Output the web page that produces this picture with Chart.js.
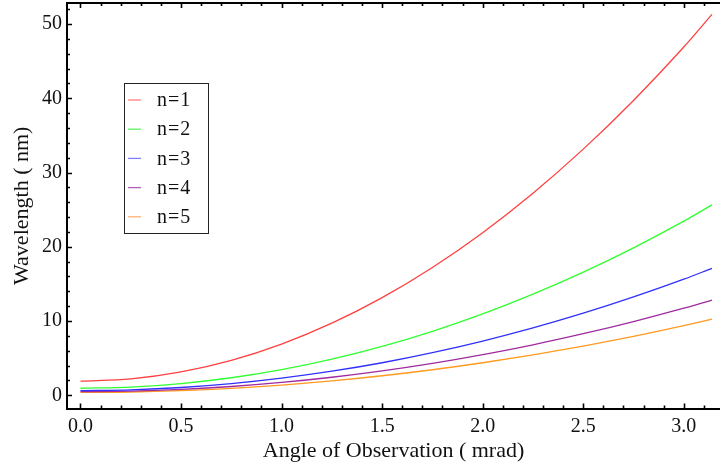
<!DOCTYPE html>
<html>
<head>
<meta charset="utf-8">
<script src="https://cdn.jsdelivr.net/npm/chart.js@4/dist/chart.umd.min.js"></script>
<style>
  html, body { margin: 0; padding: 0; background: #ffffff; }
  #wrap { width: 720px; height: 470px; position: relative; }
</style>
</head>
<body>
<div id="wrap"><canvas id="c" width="720" height="470"></canvas></div>
<script>
// Observation angle (mrad) at which each curve is sampled
const angles = [0, 0.25, 0.5, 0.75, 1.0, 1.25, 1.5, 1.75, 2.0, 2.25, 2.5, 2.75, 3.0, 3.14];

// Wavelength (nm) of each harmonic n at those angles
const harmonic1 = [1.9, 2.21, 3.15, 4.71, 6.9, 9.71, 13.15, 17.21, 21.9, 27.21, 33.15, 39.71, 46.9, 51.3];
const harmonic2 = [0.95, 1.1, 1.58, 2.36, 3.45, 4.86, 6.58, 8.61, 10.95, 13.61, 16.58, 19.86, 23.45, 25.65];
const harmonic3 = [0.63, 0.74, 1.05, 1.57, 2.3, 3.24, 4.38, 5.74, 7.3, 9.07, 11.05, 13.24, 15.63, 17.1];
const harmonic4 = [0.48, 0.55, 0.79, 1.18, 1.73, 2.43, 3.29, 4.3, 5.48, 6.8, 8.29, 9.93, 11.73, 12.83];
const harmonic5 = [0.38, 0.44, 0.63, 0.94, 1.38, 1.94, 2.63, 3.44, 4.38, 5.44, 6.63, 7.94, 9.38, 10.26];

const seriesLabels = ['n=1', 'n=2', 'n=3', 'n=4', 'n=5'];
const seriesValues = [harmonic1, harmonic2, harmonic3, harmonic4, harmonic5];

// Tick values for the axes
const xMajorTicks = [0, 0.5, 1.0, 1.5, 2.0, 2.5, 3.0];
const yMajorTicks = [0, 10, 20, 30, 40, 50];

const lineColors = ['#ff4040', '#30ff30', '#3030ff', '#a02aa0', '#ff9a20'];
const legendColors = ['#ff8080', '#60f060', '#8080ff', '#b060b0', '#ffb070'];

const FONT = '"Liberation Serif", "DejaVu Serif", serif';

const datasets = seriesValues.map((vals, i) => ({
  label: seriesLabels[i],
  data: angles.map((a, k) => ({ x: a, y: vals[k] })),
  borderColor: lineColors[i],
  borderWidth: 1.3,
  pointRadius: 0,
  fill: false,
  cubicInterpolationMode: 'monotone'
}));

// Inward-pointing ticks on left, bottom and top edges, plus the top frame line
const frameTicks = {
  id: 'frameTicks',
  afterDatasetsDraw(chart) {
    const { ctx, chartArea: a, scales: { x, y } } = chart;
    ctx.save();
    ctx.strokeStyle = '#000';
    ctx.lineWidth = 2;
    ctx.beginPath();
    ctx.moveTo(a.left - 1, a.top);
    ctx.lineTo(a.right, a.top);
    ctx.stroke();

    ctx.lineWidth = 1.6;
    ctx.beginPath();
    // x ticks: minor every 0.1
    for (let i = 0; i <= 32; i++) {
      const v = i / 10;
      const px = Math.round(x.getPixelForValue(v)) + 0.5;
      if (px > a.right) break;
      const major = i % 5 === 0;
      const len = major ? 5 : 3;
      ctx.moveTo(px, a.bottom);
      ctx.lineTo(px, a.bottom - len);
      ctx.moveTo(px, a.top);
      ctx.lineTo(px, a.top + len);
    }
    // y ticks: minor every 2
    for (let v = 0; v <= 52; v += 2) {
      const py = Math.round(y.getPixelForValue(v)) + 0.5;
      const major = v % 10 === 0;
      const len = major ? 5 : 3;
      ctx.moveTo(a.left, py);
      ctx.lineTo(a.left + len, py);
    }
    ctx.stroke();
    ctx.restore();
  }
};

// Boxed legend inside the plot
const boxedLegend = {
  id: 'boxedLegend',
  afterDraw(chart) {
    const { ctx } = chart;
    const bx = 124.5, by = 83.5, bw = 84, bh = 150;
    ctx.save();
    ctx.fillStyle = '#fff';
    ctx.fillRect(bx, by, bw, bh);
    ctx.strokeStyle = '#222';
    ctx.lineWidth = 1;
    ctx.strokeRect(bx, by, bw, bh);
    ctx.font = '20px ' + FONT;
    if ('letterSpacing' in ctx) ctx.letterSpacing = '1px';
    ctx.textBaseline = 'middle';
    ctx.textAlign = 'left';
    chart.data.datasets.forEach((ds, i) => {
      const cy = 100 + i * 29.2;
      ctx.strokeStyle = legendColors[i];
      ctx.lineWidth = 1.3;
      ctx.beginPath();
      ctx.moveTo(128, cy);
      ctx.lineTo(141, cy);
      ctx.stroke();
      ctx.fillStyle = '#111';
      ctx.fillText(ds.label, 157, cy + 1);
    });
    ctx.restore();
  }
};

new Chart(document.getElementById('c'), {
  type: 'line',
  data: { datasets },
  options: {
    responsive: false,
    animation: false,
    layout: { padding: { top: 3, right: 0, left: 0, bottom: 0 } },
    plugins: { legend: { display: false }, tooltip: { enabled: false } },
    scales: {
      x: {
        type: 'linear',
        min: -0.067,
        max: 3.18,
        afterBuildTicks(s) { s.ticks = xMajorTicks.map(v => ({ value: v })); },
        afterFit(s) { s.height = 61.5; s.paddingLeft = 0; s.paddingRight = 0; },
        grid: { display: false, drawTicks: false },
        border: { display: true, color: '#000', width: 2 },
        ticks: {
          padding: 6,
          color: '#111',
          font: { family: FONT, size: 20 },
          callback: v => Number(v).toFixed(1)
        },
        title: {
          display: true,
          text: 'Angle of Observation ( mrad)',
          color: '#111',
          font: { family: FONT, size: 22 },
          padding: { top: 0, bottom: 6 }
        }
      },
      y: {
        type: 'linear',
        min: -1.78,
        max: 52.83,
        afterBuildTicks(s) { s.ticks = yMajorTicks.map(v => ({ value: v })); },
        afterFit(s) { s.width = 67; s.paddingTop = 0; s.paddingBottom = 0; },
        grid: { display: false, drawTicks: false },
        border: { display: true, color: '#000', width: 2 },
        ticks: {
          padding: 5,
          color: '#111',
          font: { family: FONT, size: 20 },
          callback: v => String(v)
        },
        title: {
          display: true,
          text: 'Wavelength ( nm)',
          color: '#111',
          font: { family: FONT, size: 22 },
          padding: { top: 9, bottom: 0 }
        }
      }
    }
  },
  plugins: [frameTicks, boxedLegend]
});
</script>
</body>
</html>
